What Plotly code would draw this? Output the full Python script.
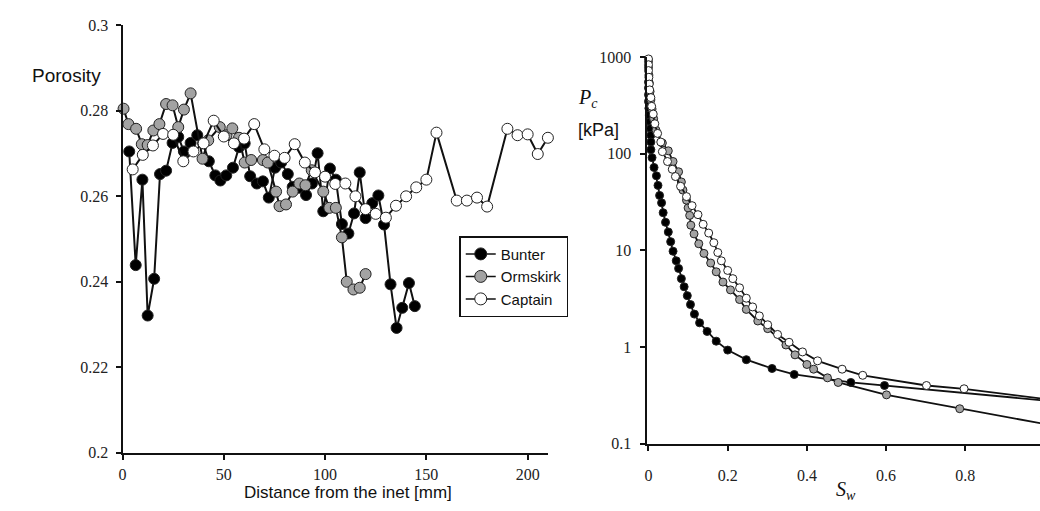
import plotly.graph_objects as go

W, H = 1040, 511

# ---------------- left panel: porosity profiles ----------------
bunter_x = [3.3, 6.5, 9.8, 12.4, 15.6, 18.5, 21.5, 24.7, 27.5, 30.3, 33.6, 36.9, 39.8, 42.6, 45.8,
            48.3, 51.2, 54.5, 57.5, 60.3, 63.0, 66.3, 69.3, 72.2, 75.3, 78.3, 81.6, 84.0, 87.3,
            90.6, 93.5, 96.3, 99.1, 102.4, 105.3, 108.3, 111.5, 114.3, 117.1, 120.0, 123.3,
            126.3, 129.1, 132.3, 135.3, 138.1, 141.4, 144.3]
bunter_y = [0.2705, 0.2439, 0.2639, 0.2321, 0.2407, 0.2652, 0.2660, 0.2725, 0.2739, 0.2705, 0.2725,
            0.2743, 0.2724, 0.2682, 0.2649, 0.2637, 0.2649, 0.2667, 0.2715, 0.2724, 0.2647, 0.2630,
            0.2635, 0.2597, 0.2667, 0.2679, 0.2652, 0.2622, 0.2620, 0.2603, 0.2630, 0.2701, 0.2565,
            0.2665, 0.2639, 0.2535, 0.2513, 0.2560, 0.2656, 0.2549, 0.2584, 0.2602, 0.2534, 0.2394,
            0.2292, 0.2339, 0.2397, 0.2343]

ormskirk_x = [0.5, 2.9, 6.7, 9.5, 12.4, 15.2, 18.2, 21.5, 24.7, 27.5, 30.3, 33.6, 39.5, 42.3, 48.0,
              51.3, 54.2, 57.5, 60.3, 63.5, 69.3, 71.7, 75.8, 77.5, 80.7, 84.0, 87.3, 90.3, 93.4,
              99.1, 102.1, 105.3, 108.3, 110.7, 114.0, 117.1, 120.0]
ormskirk_y = [0.2805, 0.2769, 0.2758, 0.2722, 0.2720, 0.2754, 0.2769, 0.2816, 0.2813, 0.2762, 0.2803,
              0.2841, 0.2688, 0.2731, 0.2762, 0.2743, 0.2759, 0.2737, 0.2679, 0.2685, 0.2685, 0.2679,
              0.2611, 0.2577, 0.2581, 0.2611, 0.2630, 0.2626, 0.2661, 0.2611, 0.2573, 0.2573, 0.2504,
              0.2400, 0.2382, 0.2386, 0.2418]

captain_x = [5, 10, 15, 20, 25, 30, 35, 40, 45, 50, 55, 60, 65, 70, 75, 80, 85, 90, 95, 100, 105,
             110, 115, 120, 125, 130, 135, 140, 145, 150, 155, 165, 170, 175, 180, 190, 195, 200,
             205, 210]
captain_y = [0.2663, 0.2697, 0.2719, 0.2746, 0.2744, 0.2682, 0.2705, 0.2724, 0.2777, 0.2740, 0.2724,
             0.2735, 0.2769, 0.2710, 0.2695, 0.2690, 0.2722, 0.2679, 0.2656, 0.2646, 0.2629, 0.2630,
             0.2600, 0.2570, 0.2559, 0.2550, 0.2578, 0.2600, 0.2621, 0.2639, 0.2749, 0.2590, 0.2590,
             0.2597, 0.2576, 0.2758, 0.2743, 0.2745, 0.2699, 0.2737]

left_xticks = [0, 50, 100, 150, 200]
left_yticks = [0.2, 0.22, 0.24, 0.26, 0.28, 0.3]
left_yticktext = ["0.2", "0.22", "0.24", "0.26", "0.28", "0.3"]

# ---------------- right panel: capillary pressure ----------------
bunter_sw = [0.0, 0.0, 0.0, 0.0, 0.001, 0.002, 0.004, 0.005, 0.006, 0.006, 0.006, 0.009, 0.014,
             0.020, 0.024, 0.028, 0.033, 0.037, 0.043, 0.050, 0.056, 0.062, 0.070, 0.076, 0.083,
             0.090, 0.098, 0.106, 0.116, 0.129, 0.148, 0.171, 0.200, 0.247, 0.312, 0.368, 0.511,
             0.596, 1.0]
bunter_pc = [550, 479, 407, 347, 295, 251, 214, 182, 155, 132, 110, 91, 72, 59, 47, 37, 31, 24.5,
             19.5, 15.5, 12.3, 9.8, 7.8, 6.5, 5.1, 4.2, 3.4, 2.75, 2.19, 1.78, 1.45, 1.15, 0.93,
             0.74, 0.60, 0.52, 0.43, 0.40, 0.28]

ormskirk_sw = [0.0, 0.0, 0.001, 0.002, 0.004, 0.006, 0.009, 0.013, 0.019, 0.035, 0.050, 0.062, 0.076,
               0.083, 0.087, 0.096, 0.100, 0.104, 0.107, 0.115, 0.127, 0.140, 0.157, 0.171, 0.188,
               0.207, 0.230, 0.247, 0.276, 0.301, 0.347, 0.370, 0.400, 0.417, 0.452, 0.479, 0.601,
               0.786, 1.0]
ormskirk_pc = [900, 780, 650, 540, 440, 360, 290, 230, 175, 129, 107, 83, 65, 51, 42, 33, 27.5, 23,
               18.2, 14.8, 11.7, 9.3, 7.4, 6.0, 4.7, 3.9, 3.1, 2.45, 1.86, 1.55, 1.05, 0.83, 0.66,
               0.59, 0.48, 0.43, 0.32, 0.23, 0.16]

captain_sw = [0.0, 0.0, 0.0, 0.001, 0.002, 0.003, 0.006, 0.008, 0.012, 0.016, 0.023, 0.031, 0.035,
              0.048, 0.060, 0.068, 0.081, 0.096, 0.110, 0.125, 0.138, 0.152, 0.165, 0.175, 0.184,
              0.200, 0.213, 0.230, 0.247, 0.263, 0.280, 0.301, 0.326, 0.355, 0.389, 0.427, 0.489,
              0.541, 0.702, 0.797, 1.0]
captain_pc = [955, 832, 724, 617, 525, 457, 380, 309, 257, 204, 162, 132, 105, 83, 69, 58, 46, 36,
              29, 23.4, 18.6, 15.1, 12.0, 9.5, 7.8, 6.2, 5.1, 4.1, 3.2, 2.6, 2.1, 1.70, 1.35, 1.12,
              0.89, 0.72, 0.59, 0.51, 0.40, 0.37, 0.29]

right_xticks = [0, 0.2, 0.4, 0.6, 0.8]
right_xticktext = ["0", "0.2", "0.4", "0.6", "0.8"]
right_yticks = [0.1, 1, 10, 100, 1000]
right_yticktext = ["0.1", "1", "10", "100", "1000"]

series_names = ["Bunter", "Ormskirk", "Captain"]
fills = ["#000000", "#a3a3a3", "#ffffff"]

# ---------------- geometry (pixels -> paper) ----------------
def px(x):
    return x / W

def py(y):
    return 1 - y / H

SERIF = "Liberation Serif"
SANS = "Liberation Sans"
INK = "#111111"

fig = go.Figure()

left = [(bunter_x, bunter_y), (ormskirk_x, ormskirk_y), (captain_x, captain_y)]
right = [(bunter_sw, bunter_pc), (ormskirk_sw, ormskirk_pc), (captain_sw, captain_pc)]

for (xs, ys), fc in zip(left, fills):
    fig.add_trace(go.Scatter(
        x=xs, y=ys, mode="lines+markers", xaxis="x", yaxis="y", showlegend=False,
        cliponaxis=False,
        line=dict(color=INK, width=2),
        marker=dict(size=11, color=fc, line=dict(color="#222222", width=1)),
    ))

for (xs, ys), fc in zip(right, fills):
    fig.add_trace(go.Scatter(
        x=xs, y=ys, mode="lines+markers", xaxis="x2", yaxis="y2", showlegend=False,
        cliponaxis=False,
        line=dict(color=INK, width=1.8),
        marker=dict(size=8, color=fc, line=dict(color="#222222", width=1)),
    ))

# legend-only entries
for name, fc in zip(series_names, fills):
    fig.add_trace(go.Scatter(
        x=[None], y=[None], mode="lines+markers", name=name, xaxis="x", yaxis="y",
        line=dict(color=INK, width=1.5),
        marker=dict(size=12, color=fc, line=dict(color="#222222", width=1)),
    ))

def axis_style(**kw):
    d = dict(showgrid=False, zeroline=False, showline=True, linecolor=INK, linewidth=2,
             ticks="outside", ticklen=5, tickwidth=1.5, tickcolor=INK,
             tickfont=dict(family=SERIF, size=16, color="#222222"))
    d.update(kw)
    return d

def note(text, x, y, family, size):
    return dict(text=text, x=px(x), y=py(y), xref="paper", yref="paper",
                xanchor="center", yanchor="middle", showarrow=False,
                font=dict(family=family, size=size, color="#111111"))

fig.update_layout(
    width=W, height=H,
    margin=dict(l=0, r=0, t=0, b=0),
    paper_bgcolor="white", plot_bgcolor="rgba(0,0,0,0)",
    xaxis=axis_style(domain=[px(119), px(546)], range=[0, 210], anchor="y",
                     tickvals=left_xticks, ticklabelstandoff=1),
    yaxis=axis_style(domain=[py(460), py(18)], range=[0.2, 0.3], anchor="x",
                     tickvals=left_yticks, ticktext=left_yticktext, ticklabelstandoff=4),
    xaxis2=axis_style(domain=[px(645), 1.0], range=[-0.005, 0.9887], anchor="y2",
                      tickvals=right_xticks, ticktext=right_xticktext, ticklabelstandoff=11),
    yaxis2=axis_style(domain=[py(450.7), py(50.7)], type="log", range=[-1, 3], anchor="x2",
                      tickvals=right_yticks, ticktext=right_yticktext, ticklabelstandoff=5),
    legend=dict(x=px(457), y=py(236), xanchor="left", yanchor="top",
                bgcolor="white", bordercolor=INK, borderwidth=1.5,
                font=dict(family=SANS, size=15, color="#111111"),
                tracegroupgap=0, itemwidth=30),
    annotations=[
        note("Porosity", 63, 70, SANS, 19),
        note("Distance from the inet [mm]", 345, 501, SANS, 17),
        note("<i>P</i><sub><i>c</i></sub>", 586, 94, SERIF, 20),
        note("[kPa]", 597, 126, SANS, 18),
        note("<i>S</i><sub><i>w</i></sub>", 845, 499, SERIF, 20),
        note("1", 1043, 479, SERIF, 16),
    ],
)

fig.write_html("out.html")
